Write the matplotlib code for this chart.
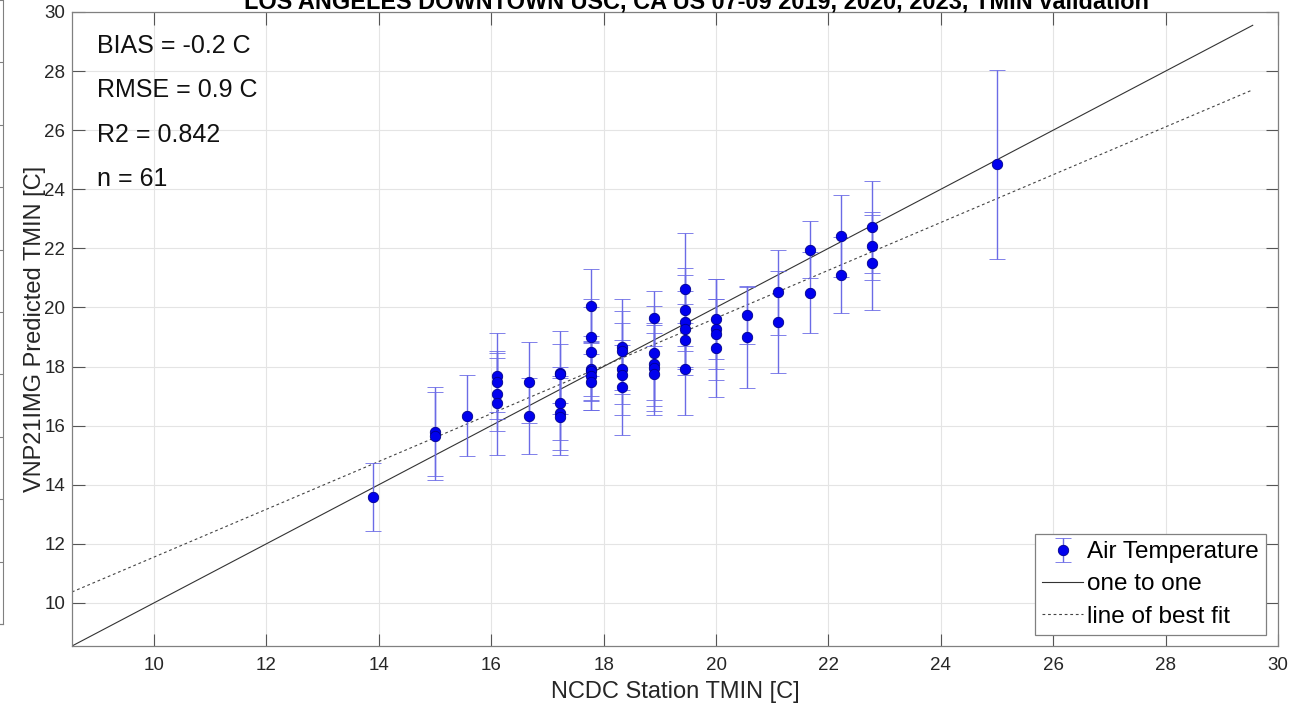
import matplotlib
matplotlib.use("Agg")
import matplotlib.pyplot as plt
import numpy as np

plt.rcParams['font.family'] = ['Liberation Sans', 'DejaVu Sans']

# station TMIN [C] (converted from whole degrees F)
station_tmin = [13.89,
                15.0, 15.0,
                15.56,
                16.11, 16.11, 16.11, 16.11,
                16.67, 16.67,
                17.22, 17.22, 17.22, 17.22, 17.22,
                17.78, 17.78, 17.78, 17.78, 17.78, 17.78, 17.78,
                18.33, 18.33, 18.33, 18.33, 18.33,
                18.89, 18.89, 18.89, 18.89, 18.89,
                19.44, 19.44, 19.44, 19.44, 19.44, 19.44,
                20.0, 20.0, 20.0, 20.0,
                20.56, 20.56,
                21.11, 21.11,
                21.67, 21.67,
                22.22, 22.22,
                22.78, 22.78, 22.78,
                25.0]

predicted_tmin = [13.57,
                  15.80, 15.65,
                  16.34,
                  17.68, 17.46, 17.06, 16.76,
                  17.46, 16.33,
                  17.79, 17.75, 16.76, 16.42, 16.30,
                  20.06, 18.99, 18.50, 17.93, 17.85, 17.68, 17.49,
                  18.67, 18.54, 17.92, 17.72, 17.29,
                  19.63, 18.45, 18.08, 17.94, 17.75,
                  20.61, 19.92, 19.50, 19.27, 18.90, 17.92,
                  19.60, 19.26, 19.10, 18.63,
                  19.73, 18.99,
                  20.51, 19.52,
                  21.96, 20.50,
                  22.42, 21.10,
                  22.73, 22.09, 21.52,
                  24.85]

predicted_err = [1.15,
                 1.5, 1.5,
                 1.37,
                 1.47, 1.0, 1.24, 1.75,
                 1.36, 1.28,
                 1.4, 1.0, 1.24, 1.25, 1.3,
                 1.25, 1.3, 1.5, 1.1, 1.0, 1.15, 0.95,
                 1.6, 1.35, 1.55, 1.0, 1.6,
                 0.93, 1.6, 1.4, 1.45, 1.4,
                 1.9, 1.4, 1.6, 1.3, 1.2, 1.55,
                 1.35, 1.7, 1.2, 1.65,
                 0.97, 1.72,
                 1.44, 1.73,
                 0.98, 1.38,
                 1.38, 1.3,
                 1.55, 1.15, 1.62,
                 3.2]

fit_slope = 0.809
fit_intercept = 3.46
line_range = [8.54, 29.55]

stats_text = ["BIAS = -0.2 C", "RMSE = 0.9 C", "R2 = 0.842", "n = 61"]
title = "LOS ANGELES DOWNTOWN USC, CA US 07-09 2019, 2020, 2023, TMIN validation"

fig = plt.figure(figsize=(12.92, 7.09), dpi=100)

# sliver of the neighbouring panel at the left edge
ax0 = fig.add_axes([-0.5, 0.12, 0.5 + 3 / 1292, 0.88])
ax0.set_xlim(0, 1)
ax0.set_ylim(0, 10)
ax0.set_yticks(range(0, 11))
ax0.yaxis.tick_right()
ax0.tick_params(axis='y', direction='in', length=9, color='#808080', labelright=False)
ax0.set_xticks([])
for s in ['left', 'top']:
    ax0.spines[s].set_visible(False)
for s in ['right', 'bottom']:
    ax0.spines[s].set_color('#808080')

ax = fig.add_axes([72 / 1292, 63 / 709, 1206 / 1292, 634 / 709])

eb = ax.errorbar(station_tmin, predicted_tmin, yerr=predicted_err, fmt='o',
                 color='#0000ee', mfc='#0000ee', mec='#00008b', mew=0.6, ms=7.5,
                 ecolor='#6b6be6', elinewidth=1.0, capsize=5.5, capthick=1.0,
                 label='Air Temperature', zorder=3)
xx = np.array(line_range)
l1, = ax.plot(xx, xx, color='#333333', lw=0.8, label='one to one', zorder=2)
l2, = ax.plot(xx, fit_slope * xx + fit_intercept, color='#444444', lw=0.8,
              linestyle=(0, (2.5, 2.5)), label='line of best fit', zorder=2)

ax.set_xlim(8.54, 30)
ax.set_ylim(8.54, 30)
ax.set_xticks(np.arange(10, 31, 2))
ax.set_yticks(np.arange(10, 31, 2))
ax.grid(True, color='#e4e4e4', lw=0.8)
ax.set_axisbelow(True)
ax.tick_params(direction='in', length=9, top=True, right=True, color='#555555',
               labelsize=13.5, labelcolor='#262626')
ax.tick_params(axis='y', pad=5)
ax.tick_params(axis='x', pad=8)
for s in ax.spines.values():
    s.set_color('#808080')
    s.set_linewidth(0.9)

ax.set_xlabel("NCDC Station TMIN [C]", fontsize=17, color='#262626', labelpad=5)
ax.set_ylabel("VNP21IMG Predicted TMIN [C]", fontsize=17, color='#262626')
ax.yaxis.set_label_coords(-26 / 1206, 0.5)

for i, t in enumerate(stats_text):
    fig.text(97 / 1292, 1 - (46 + 44.3 * i) / 709, t, fontsize=18, va='center', ha='left', color='#111111')

# title is partly above the top edge, as in the cropped source
fig.text(696 / 1292, 1 - 8 / 709, title, fontsize=16.9, fontweight='bold', ha='center', va='baseline')

leg = ax.legend([eb, l1, l2], ['Air Temperature', 'one to one', 'line of best fit'],
                loc='lower right', bbox_to_anchor=(1266 / 1292, 74 / 709),
                bbox_transform=fig.transFigure, fontsize=17.5, fancybox=False,
                framealpha=1, edgecolor='#808080', borderaxespad=0,
                handlelength=1.7, handletextpad=0.15, labelspacing=0.42,
                borderpad=0.3)
leg.get_frame().set_linewidth(0.9)

fig.savefig("out.png", dpi=100)
